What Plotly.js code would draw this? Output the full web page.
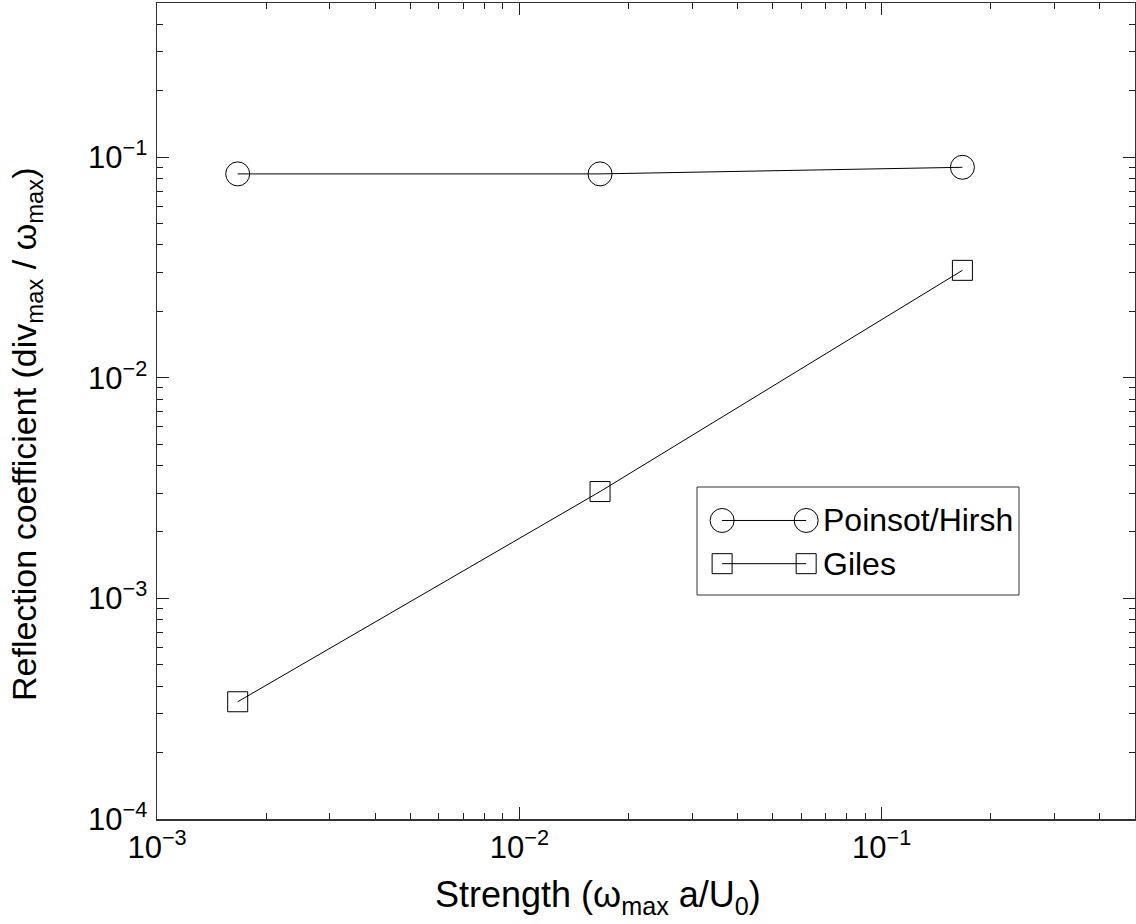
<!DOCTYPE html>
<html>
<head>
<meta charset="utf-8">
<script src="https://cdn.plot.ly/plotly-3.0.1.min.js"></script>
<style>
  html, body { margin: 0; padding: 0; background: #fff; }
  #chart { width: 1136px; height: 924px; }
</style>
</head>
<body>
<div id="chart"></div>
<script>
// Vortex strength (omega_max a / U0)
const strength = [0.00167, 0.0167, 0.167];
// Reflection coefficient for each boundary treatment
const poinsotHirsh = [0.084, 0.084, 0.090];
const giles = [0.00034, 0.00305, 0.0307];

const seriesNames = ['Poinsot/Hirsh', 'Giles'];

// Decade tick labels
const xTickVals = [0.001, 0.01, 0.1];
const xTickText = ['10<sup>−3</sup>', '10<sup>−2</sup>', '10<sup>−1</sup>'];
const yTickVals = [0.0001, 0.001, 0.01, 0.1];
const yTickText = ['10<sup>−4</sup>', '10<sup>−3</sup>', '10<sup>−2</sup>', '10<sup>−1</sup>'];

const xTitle = 'Strength (ω<sub>max</sub> a/U<sub>0</sub>)';
const yTitle = 'Reflection coefficient (div<sub>max</sub> / ω<sub>max</sub>)';

// Minor ticks 2..9 within each decade up to the axis limit
function minorTicks(lo, hi) {
  const out = [];
  for (let d = lo; d < hi; d *= 10) {
    for (let k = 2; k <= 9; k++) {
      const v = k * d;
      if (v <= hi * 1.0001) out.push(v);
    }
  }
  return out;
}

const W = 1136, H = 924;
const M = { l: 157, r: 1, t: 3, b: 105 };
const plotW = W - M.l - M.r, plotH = H - M.t - M.b;
// pixel -> paper helpers for boxes and labels placed outside the axes
const px = x => (x - M.l) / plotW;
const py = y => (H - M.b - y) / plotH;

const FONT = 'Liberation Sans, Arial, Helvetica, sans-serif';
const lineStyle = { color: '#000', width: 1 };

const axisCommon = {
  type: 'log',
  showline: true,
  linecolor: '#333',
  linewidth: 1.5,
  mirror: 'ticks',
  ticks: 'inside',
  ticklen: 12,
  tickwidth: 1,
  tickcolor: '#222',
  showgrid: false,
  zeroline: false,
  tickmode: 'array',
  tickfont: { family: FONT, size: 31, color: '#000' },
  minor: { ticks: 'inside', ticklen: 6, tickwidth: 1, tickcolor: '#222', showgrid: false }
};

// Legend box geometry (in pixels), drawn as an inset axis
const LEG = { x0: 697, x1: 1019, y0: 487, y1: 595 };

const circleMarker = { symbol: 'circle-open', size: 24, color: '#000', line: { width: 1, color: '#000' } };
const squareMarker = { symbol: 'square-open', size: 20, color: '#000', line: { width: 1, color: '#000' } };

const traces = [
  {
    x: strength, y: poinsotHirsh, name: seriesNames[0],
    mode: 'lines+markers', line: lineStyle, marker: circleMarker,
    xaxis: 'x', yaxis: 'y', showlegend: false
  },
  {
    x: strength, y: giles, name: seriesNames[1],
    mode: 'lines+markers', line: lineStyle, marker: squareMarker,
    xaxis: 'x', yaxis: 'y', showlegend: false
  },
  // legend samples
  {
    x: [0.078, 0.339], y: [0.69, 0.69], mode: 'lines+markers', line: lineStyle,
    marker: circleMarker, xaxis: 'x2', yaxis: 'y2', showlegend: false, hoverinfo: 'skip'
  },
  {
    x: [0.078, 0.339], y: [0.29, 0.29], mode: 'lines+markers', line: lineStyle,
    marker: squareMarker, xaxis: 'x2', yaxis: 'y2', showlegend: false, hoverinfo: 'skip'
  }
];

const layout = {
  width: W, height: H,
  margin: M,
  paper_bgcolor: '#fff',
  plot_bgcolor: '#fff',
  font: { family: FONT, color: '#000' },
  showlegend: false,
  xaxis: Object.assign({}, axisCommon, {
    range: [-3, Math.log10(0.5)],
    tickvals: xTickVals, ticktext: xTickText,
    minor: Object.assign({}, axisCommon.minor, { tickvals: minorTicks(0.001, 0.5) })
  }),
  yaxis: Object.assign({}, axisCommon, {
    range: [-4, Math.log10(0.5)],
    tickvals: yTickVals, ticktext: yTickText,
    ticklabelstandoff: 2,
    minor: Object.assign({}, axisCommon.minor, { tickvals: minorTicks(0.0001, 0.5) })
  }),
  xaxis2: {
    domain: [px(LEG.x0), px(LEG.x1)], range: [0, 1], anchor: 'y2',
    visible: false, fixedrange: true
  },
  yaxis2: {
    domain: [py(LEG.y1), py(LEG.y0)], range: [0, 1], anchor: 'x2',
    visible: false, fixedrange: true
  },
  shapes: [
    {
      type: 'rect', xref: 'paper', yref: 'paper',
      x0: px(LEG.x0), x1: px(LEG.x1), y0: py(LEG.y1), y1: py(LEG.y0),
      line: { color: '#333', width: 1 }, fillcolor: 'rgba(0,0,0,0)', layer: 'above'
    }
  ],
  annotations: [
    { xref: 'x2', yref: 'y2', x: 0.385, y: 0.69, text: seriesNames[0], showarrow: false,
      xanchor: 'left', yanchor: 'middle', font: { family: FONT, size: 32, color: '#000' } },
    { xref: 'x2', yref: 'y2', x: 0.385, y: 0.29, text: seriesNames[1], showarrow: false,
      xanchor: 'left', yanchor: 'middle', font: { family: FONT, size: 32, color: '#000' } },
    // axis titles
    { xref: 'paper', yref: 'paper', x: px(598), y: py(872), text: xTitle, showarrow: false,
      xanchor: 'center', yanchor: 'top', font: { family: FONT, size: 36, color: '#000' } },
    { xref: 'paper', yref: 'paper', x: px(26), y: py(434), text: yTitle, showarrow: false,
      textangle: -90, xanchor: 'center', yanchor: 'middle', font: { family: FONT, size: 34, color: '#000' } }
  ]
};

Plotly.newPlot('chart', traces, layout, { staticPlot: true, displayModeBar: false });
</script>
</body>
</html>
